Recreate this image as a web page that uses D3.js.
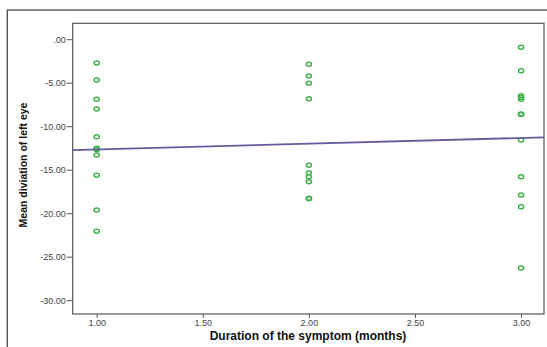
<html><head>
<meta charset="utf-8">
<style>
  body { margin: 0; background: #fff; }
  svg { display: block; font-family: "Liberation Sans", Arial, sans-serif; }
  .tick text { fill: #444; font-size: 9px; }
  .tick line { stroke: #555; }
  .domain { display: none; }
</style>
<script src="https://d3js.org/d3.v7.min.js"></script>
</head>
<body>
<div id="chart"></div>
<script>
// duration of the symptom (months)
const durations = [1, 2, 3];
// mean deviation of left eye, one list per duration
const devMonth1 = [-2.74, -4.69, -6.91, -8.02, -11.21, -12.54, -12.7, -13.31, -15.64, -19.63, -22.08];
const devMonth2 = [-2.89, -4.23, -5.07, -6.84, -14.49, -15.34, -15.8, -16.38, -18.29, -18.35];
const devMonth3 = [-0.93, -3.62, -6.49, -6.7, -6.91, -8.6, -8.65, -11.59, -15.8, -17.91, -19.25, -26.3];
const groups = [devMonth1, devMonth2, devMonth3];
const xTicks = [1, 1.5, 2, 2.5, 3];
const yTicks = [0, -5, -10, -15, -20, -25, -30];
// fitted line
const fitIntercept = -13.33;
const fitSlope = 0.66;

const W = 547, H = 347;
const box = { left: 72.7, top: 23.3, right: 544, bottom: 314 };

const svg = d3.select("#chart").append("svg")
  .attr("width", W).attr("height", H);

// outer frame (runs off the right and bottom edge)
svg.append("rect")
  .attr("x", 7.3).attr("y", 10)
  .attr("width", W).attr("height", H)
  .attr("fill", "none").attr("stroke", "#555").attr("stroke-width", 1.4);

const x = d3.scaleLinear().domain([0.887, 3.108]).range([box.left, box.right]);
const y = d3.scaleLinear().domain([-31.59, 1.83]).range([box.bottom, box.top]);

// spss style labels: ".00", "-5.00" with a plain hyphen
const fmt = d => {
  const s = Math.abs(d).toFixed(2).replace(/^0\./, ".");
  return (d < 0 ? "-" : "") + s;
};

svg.append("rect")
  .attr("x", box.left).attr("y", box.top)
  .attr("width", box.right - box.left).attr("height", box.bottom - box.top)
  .attr("fill", "#fff").attr("stroke", "#555").attr("stroke-width", 1.2);

svg.append("g")
  .attr("transform", `translate(0,${box.bottom})`)
  .call(d3.axisBottom(x).tickValues(xTicks).tickSize(4).tickPadding(2).tickFormat(fmt));

svg.append("g")
  .attr("transform", `translate(${box.left},0)`)
  .call(d3.axisLeft(y).tickValues(yTicks).tickSize(6).tickPadding(1).tickFormat(fmt));

const points = [];
groups.forEach((vals, i) => vals.forEach(v => points.push({ x: durations[i], y: v })));

svg.append("g").selectAll("ellipse")
  .data(points)
  .join("ellipse")
  .attr("cx", d => x(d.x))
  .attr("cy", d => y(d.y))
  .attr("rx", 2.6).attr("ry", 2)
  .attr("fill", "none")
  .attr("stroke", "#3fb34a")
  .attr("stroke-width", 1.5);

const xd = x.domain();
svg.append("line")
  .attr("x1", x(xd[0])).attr("y1", y(fitIntercept + fitSlope * xd[0]))
  .attr("x2", x(xd[1])).attr("y2", y(fitIntercept + fitSlope * xd[1]))
  .attr("stroke", "#5f5f9c").attr("stroke-width", 1.8);

svg.append("text")
  .attr("x", 308).attr("y", 340)
  .attr("text-anchor", "middle")
  .attr("font-size", "12px").attr("font-weight", "bold")
  .attr("fill", "#111")
  .text("Duration of the symptom (months)");

svg.append("text")
  .attr("transform", "translate(27,165) rotate(-90)")
  .attr("text-anchor", "middle")
  .attr("font-size", "10.5px").attr("font-weight", "bold")
  .attr("fill", "#111")
  .text("Mean diviation of left eye");
</script>
</body></html>
